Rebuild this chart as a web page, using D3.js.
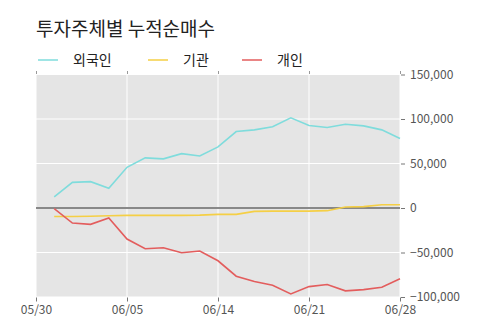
<!DOCTYPE html>
<html>
<head>
<meta charset="utf-8">
<script src="https://cdn.jsdelivr.net/npm/d3@7"></script>
<style>
  body { margin: 0; background: #fff; }
  svg { font-family: "Noto Sans CJK KR", "Noto Sans", sans-serif; }
</style>
</head>
<body>
<svg id="chart" width="500" height="323"></svg>
<script>
// x slots: 0..20, data lives in 1..20
var tickIdx = [0, 5, 10, 15, 20];
var tickLabels = ["05/30", "06/05", "06/14", "06/21", "06/28"];
var idx = d3.range(1, 21);

var foreign = [12400, 28800, 29600, 22100, 45700, 56300, 55200, 61100, 58500, 68700,
               85900, 87800, 91200, 101300, 92700, 90400, 94100, 92300, 87800, 78000];
var inst = [-9500, -9500, -9300, -8700, -8300, -8300, -8300, -8300, -8000, -7200,
            -7200, -3800, -3500, -3500, -3500, -3000, 1100, 1500, 3700, 3700];
var indiv = [-800, -16900, -18400, -11300, -34900, -45800, -44700, -50300, -48400, -59300,
             -76600, -82600, -86700, -96500, -88300, -86000, -93100, -91700, -89000, -79600];

var seriesNames = ["외국인", "기관", "개인"];
var seriesColors = ["#7fdcdc", "#f5cf45", "#e35d5d"];
var seriesData = [foreign, inst, indiv];

var yTicks = [-100000, -50000, 0, 50000, 100000, 150000];

var svg = d3.select("#chart");
var pL = 36, pR = 400, pT = 74.5, pB = 297;

var x = d3.scaleLinear().domain([0, 20]).range([pL, pR]);
var y = d3.scaleLinear().domain([-100000, 150000]).range([pB, pT]);

// title
svg.append("text")
  .attr("x", 36).attr("y", 36)
  .attr("font-size", 19).attr("fill", "#222")
  .text("투자주체별 누적순매수");

// legend
var legX = [38, 148, 242];
seriesNames.forEach(function(name, i) {
  svg.append("line")
    .attr("x1", legX[i]).attr("x2", legX[i] + 20)
    .attr("y1", 60).attr("y2", 60)
    .attr("stroke", seriesColors[i]).attr("stroke-width", 1.5);
  svg.append("text")
    .attr("x", legX[i] + 35).attr("y", 65)
    .attr("font-size", 14).attr("fill", "#222")
    .text(name);
});

// background
svg.append("rect")
  .attr("x", pL).attr("y", pT)
  .attr("width", pR - pL).attr("height", pB - pT)
  .attr("fill", "#e5e5e5");

// grid
svg.append("g").selectAll("line").data(tickIdx).join("line")
  .attr("x1", function(d) { return x(d); }).attr("x2", function(d) { return x(d); })
  .attr("y1", pT).attr("y2", pB)
  .attr("stroke", "#fff").attr("stroke-width", 1);
svg.append("g").selectAll("line").data(yTicks).join("line")
  .attr("x1", pL).attr("x2", pR)
  .attr("y1", function(d) { return y(d); }).attr("y2", function(d) { return y(d); })
  .attr("stroke", "#fff").attr("stroke-width", 1);

// zero line
svg.append("line")
  .attr("x1", pL).attr("x2", pR)
  .attr("y1", y(0)).attr("y2", y(0))
  .attr("stroke", "#888").attr("stroke-width", 1.8);

// series
var line = d3.line()
  .x(function(d, i) { return x(idx[i]); })
  .y(function(d) { return y(d); });

seriesData.forEach(function(s, i) {
  svg.append("path")
    .datum(s)
    .attr("d", line)
    .attr("fill", "none")
    .attr("stroke", seriesColors[i])
    .attr("stroke-width", 1.6);
});

// axes
var xAxis = d3.axisBottom(x).tickValues(tickIdx)
  .tickFormat(function(d, i) { return tickLabels[i]; })
  .tickSize(4).tickPadding(4);
var gx = svg.append("g").attr("transform", "translate(0," + (pB + 0.5) + ")").call(xAxis);
gx.select(".domain").remove();
gx.selectAll("line").attr("stroke", "#777");
gx.selectAll("text").attr("font-size", 12).attr("fill", "#555")
  .attr("font-family", "\"Noto Sans CJK KR\", sans-serif");

var xTop = d3.axisTop(x).tickValues(tickIdx).tickFormat("").tickSize(3);
var gxt = svg.append("g").attr("transform", "translate(0," + (pT - 0.5) + ")").call(xTop);
gxt.select(".domain").remove();
gxt.selectAll("line").attr("stroke", "#999");

var yAxis = d3.axisRight(y).tickValues(yTicks)
  .tickFormat(d3.format(","))
  .tickSize(4).tickPadding(5);
var gy = svg.append("g").attr("transform", "translate(" + (pR + 1) + ",0)").call(yAxis);
gy.select(".domain").remove();
gy.selectAll("line").attr("stroke", "#777");
gy.selectAll("text").attr("font-size", 12).attr("fill", "#555")
  .attr("font-family", "\"Noto Sans CJK KR\", sans-serif");
</script>
</body>
</html>
